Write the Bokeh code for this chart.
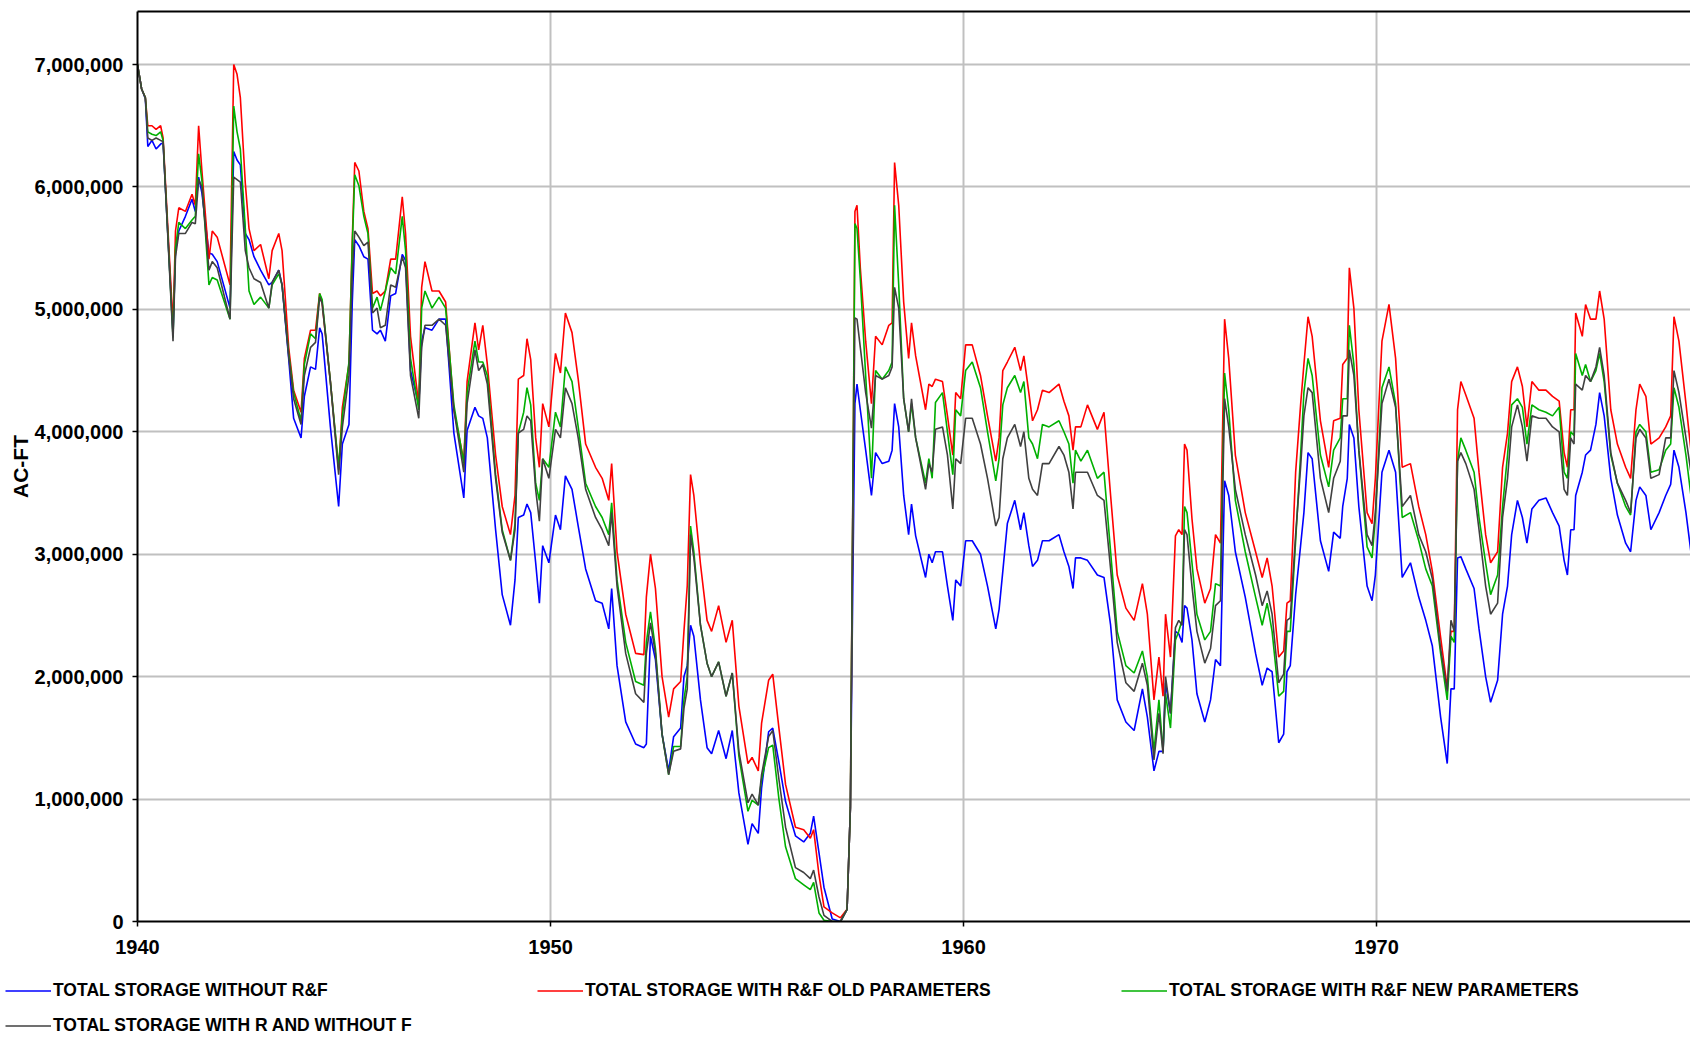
from bokeh.plotting import figure
from bokeh.models import (FixedTicker, NumeralTickFormatter, LinearAxis, Range1d,
                          Legend, LegendItem)
from bokeh.layouts import column
from bokeh.embed import file_html
from bokeh.resources import INLINE

years = [
    1940.00, 1940.10, 1940.19, 1940.25, 1940.35, 1940.45, 1940.56, 1940.62, 1940.86, 1940.92,
    1941.00, 1941.16, 1941.32, 1941.40, 1941.48, 1941.56, 1941.73, 1941.81, 1941.93, 1942.24,
    1942.33, 1942.41, 1942.49, 1942.61, 1942.70, 1942.82, 1942.98, 1943.18, 1943.26, 1943.42,
    1943.50, 1943.66, 1943.78, 1943.96, 1944.04, 1944.19, 1944.31, 1944.41, 1944.47, 1944.67,
    1944.87, 1944.96, 1945.12, 1945.20, 1945.26, 1945.36, 1945.48, 1945.58, 1945.69, 1945.80,
    1945.88, 1946.00, 1946.13, 1946.25, 1946.41, 1946.49, 1946.61, 1946.81, 1946.88, 1946.96,
    1947.13, 1947.30, 1947.46, 1947.66, 1947.90, 1947.98, 1948.17, 1948.26, 1948.36, 1948.47,
    1948.67, 1948.83, 1949.03, 1949.14, 1949.22, 1949.35, 1949.43, 1949.52, 1949.64, 1949.73,
    1949.81, 1949.96, 1950.12, 1950.24, 1950.36, 1950.52, 1950.67, 1950.85, 1951.09, 1951.25,
    1951.41, 1951.48, 1951.61, 1951.82, 1952.06, 1952.26, 1952.32, 1952.42, 1952.54, 1952.70,
    1952.86, 1952.98, 1953.15, 1953.23, 1953.31, 1953.39, 1953.47, 1953.63, 1953.79, 1953.90,
    1954.07, 1954.25, 1954.40, 1954.56, 1954.78, 1954.88, 1955.03, 1955.11, 1955.28, 1955.38,
    1955.53, 1955.69, 1955.93, 1956.13, 1956.29, 1956.37, 1956.50, 1956.62, 1956.82, 1957.02,
    1957.18, 1957.26, 1957.32, 1957.37, 1957.42, 1957.50, 1957.63, 1957.77, 1957.87, 1958.03,
    1958.19, 1958.27, 1958.33, 1958.43, 1958.55, 1958.67, 1958.74, 1958.84, 1959.08, 1959.16,
    1959.24, 1959.32, 1959.49, 1959.61, 1959.74, 1959.81, 1959.93, 1960.05, 1960.21, 1960.41,
    1960.58, 1960.78, 1960.86, 1960.95, 1961.06, 1961.24, 1961.38, 1961.46, 1961.58, 1961.67,
    1961.79, 1961.91, 1962.07, 1962.31, 1962.43, 1962.55, 1962.65, 1962.71, 1962.84, 1963.00,
    1963.24, 1963.40, 1963.56, 1963.72, 1963.93, 1964.13, 1964.33, 1964.45, 1964.61, 1964.73,
    1964.83, 1964.89, 1965.01, 1965.13, 1965.21, 1965.29, 1965.35, 1965.41, 1965.53, 1965.65,
    1965.84, 1965.98, 1966.10, 1966.22, 1966.32, 1966.42, 1966.58, 1966.82, 1967.07, 1967.23,
    1967.35, 1967.47, 1967.63, 1967.75, 1967.83, 1967.91, 1968.04, 1968.16, 1968.24, 1968.34,
    1968.44, 1968.64, 1968.84, 1968.96, 1969.12, 1969.18, 1969.29, 1969.34, 1969.45, 1969.57,
    1969.77, 1969.89, 1969.97, 1970.13, 1970.30, 1970.46, 1970.62, 1970.82, 1971.02, 1971.19,
    1971.35, 1971.55, 1971.71, 1971.80, 1971.88, 1971.96, 1972.04, 1972.16, 1972.36, 1972.48,
    1972.64, 1972.76, 1972.93, 1973.05, 1973.17, 1973.27, 1973.41, 1973.53, 1973.64, 1973.76,
    1973.93, 1974.10, 1974.26, 1974.42, 1974.54, 1974.62, 1974.70, 1974.78, 1974.82, 1974.98,
    1975.06, 1975.18, 1975.31, 1975.40, 1975.51, 1975.67, 1975.83, 1976.03, 1976.15, 1976.28,
    1976.37, 1976.52, 1976.64, 1976.84, 1977.00, 1977.12, 1977.20, 1977.32, 1977.49, 1977.61,
]

# values in millions of acre-feet
without_rf = [
    7.00, 6.80, 6.72, 6.33, 6.38, 6.31, 6.35, 6.36, 4.80, 5.48,
    5.64, 5.76, 5.90, 5.80, 6.08, 5.95, 5.46, 5.45, 5.39, 5.01,
    6.29, 6.22, 6.18, 5.62, 5.57, 5.43, 5.32, 5.20, 5.22, 5.32,
    5.20, 4.60, 4.11, 3.95, 4.29, 4.53, 4.51, 4.85, 4.80, 4.04,
    3.39, 3.90, 4.06, 5.06, 5.57, 5.52, 5.43, 5.41, 4.83, 4.80,
    4.83, 4.74, 5.11, 5.13, 5.45, 5.40, 4.50, 4.22, 4.74, 4.85,
    4.83, 4.92, 4.92, 3.99, 3.46, 4.01, 4.20, 4.13, 4.11, 3.95,
    3.20, 2.67, 2.42, 2.79, 3.30, 3.32, 3.41, 3.34, 2.93, 2.60,
    3.07, 2.93, 3.32, 3.20, 3.64, 3.53, 3.23, 2.88, 2.62, 2.60,
    2.39, 2.72, 2.09, 1.63, 1.45, 1.42, 1.45, 2.33, 2.14, 1.53,
    1.23, 1.51, 1.58, 2.00, 2.09, 2.42, 2.33, 1.81, 1.42, 1.37,
    1.56, 1.33, 1.56, 1.05, 0.63, 0.80, 0.72, 1.09, 1.55, 1.58,
    1.30, 0.98, 0.70, 0.65, 0.72, 0.86, 0.56, 0.28, 0.02, 0.00,
    0.10, 0.93, 2.80, 4.23, 4.39, 4.18, 3.85, 3.48, 3.83, 3.74,
    3.76, 3.85, 4.23, 4.04, 3.48, 3.16, 3.41, 3.15, 2.81, 3.00,
    2.93, 3.02, 3.02, 2.74, 2.46, 2.79, 2.74, 3.11, 3.11, 3.00,
    2.74, 2.39, 2.55, 2.86, 3.25, 3.44, 3.20, 3.34, 3.07, 2.90,
    2.95, 3.11, 3.11, 3.16, 3.02, 2.90, 2.72, 2.97, 2.97, 2.95,
    2.83, 2.81, 2.42, 1.81, 1.63, 1.56, 1.90, 1.67, 1.23, 1.39,
    1.39, 1.95, 1.70, 2.37, 2.35, 2.28, 2.58, 2.56, 2.30, 1.86,
    1.63, 1.81, 2.14, 2.09, 3.60, 3.48, 3.02, 2.65, 2.19, 1.93,
    2.07, 2.04, 1.46, 1.53, 2.04, 2.09, 2.67, 3.07, 3.34, 3.83,
    3.78, 3.11, 2.86, 3.18, 3.13, 3.39, 3.62, 4.06, 3.95, 3.39,
    2.74, 2.62, 2.83, 3.67, 3.85, 3.67, 2.81, 2.93, 2.65, 2.46,
    2.25, 1.67, 1.29, 1.90, 1.90, 2.97, 2.98, 2.88, 2.72, 2.39,
    2.00, 1.79, 1.97, 2.51, 2.74, 3.16, 3.44, 3.30, 3.09, 3.37,
    3.44, 3.46, 3.34, 3.23, 2.95, 2.83, 3.20, 3.20, 3.48, 3.67,
    3.81, 3.85, 4.06, 4.32, 4.13, 3.62, 3.32, 3.09, 3.02, 3.44,
    3.55, 3.48, 3.20, 3.34, 3.48, 3.57, 3.85, 3.71, 3.34, 3.02,
]

rf_old = [
    7.00, 6.80, 6.73, 6.50, 6.50, 6.47, 6.50, 6.40, 4.87, 5.64,
    5.83, 5.80, 5.94, 5.85, 6.50, 6.13, 5.41, 5.64, 5.59, 5.20,
    7.00, 6.92, 6.73, 6.03, 5.66, 5.48, 5.53, 5.25, 5.48, 5.62,
    5.48, 4.69, 4.34, 4.16, 4.60, 4.83, 4.83, 5.13, 5.05, 4.41,
    3.69, 4.20, 4.55, 5.57, 6.20, 6.13, 5.80, 5.66, 5.13, 5.15,
    5.11, 5.15, 5.41, 5.41, 5.92, 5.62, 4.78, 4.22, 5.18, 5.39,
    5.15, 5.15, 5.06, 4.18, 3.76, 4.41, 4.89, 4.67, 4.87, 4.55,
    3.81, 3.39, 3.16, 3.48, 4.43, 4.46, 4.76, 4.59, 3.95, 3.71,
    4.23, 4.04, 4.64, 4.48, 4.97, 4.81, 4.43, 3.90, 3.71, 3.62,
    3.44, 3.74, 3.02, 2.51, 2.19, 2.18, 2.65, 3.00, 2.72, 2.00,
    1.67, 1.90, 1.96, 2.37, 2.74, 3.65, 3.48, 2.92, 2.46, 2.37,
    2.58, 2.28, 2.46, 1.76, 1.29, 1.34, 1.23, 1.62, 1.97, 2.02,
    1.58, 1.12, 0.77, 0.75, 0.68, 0.75, 0.38, 0.12, 0.07, 0.03,
    0.10, 0.93, 3.50, 5.80, 5.85, 5.34, 4.74, 4.23, 4.78, 4.71,
    4.87, 4.89, 6.20, 5.85, 5.06, 4.60, 4.89, 4.62, 4.18, 4.39,
    4.37, 4.43, 4.41, 4.13, 3.81, 4.32, 4.27, 4.71, 4.71, 4.46,
    4.13, 3.76, 3.95, 4.50, 4.57, 4.69, 4.50, 4.62, 4.32, 4.09,
    4.18, 4.34, 4.32, 4.39, 4.25, 4.13, 3.85, 4.04, 4.04, 4.22,
    4.02, 4.16, 3.48, 2.83, 2.56, 2.46, 2.76, 2.51, 1.81, 2.16,
    1.84, 2.51, 2.16, 3.15, 3.20, 3.16, 3.90, 3.85, 3.29, 2.88,
    2.60, 2.72, 3.16, 3.09, 4.92, 4.60, 3.81, 3.34, 3.02, 2.81,
    2.97, 2.74, 2.16, 2.21, 2.60, 2.62, 3.67, 4.22, 4.55, 4.94,
    4.78, 4.09, 3.71, 4.09, 4.11, 4.55, 4.60, 5.34, 5.01, 4.18,
    3.34, 3.25, 3.62, 4.74, 5.04, 4.60, 3.71, 3.74, 3.39, 3.16,
    2.86, 2.32, 1.91, 2.37, 2.37, 4.18, 4.41, 4.30, 4.11, 3.67,
    3.16, 2.93, 3.02, 3.71, 3.99, 4.41, 4.53, 4.37, 4.04, 4.41,
    4.34, 4.34, 4.29, 4.25, 3.83, 3.71, 4.18, 4.18, 4.97, 4.78,
    5.04, 4.92, 4.92, 5.15, 4.92, 4.18, 3.90, 3.71, 3.62, 4.18,
    4.39, 4.29, 3.90, 3.95, 4.04, 4.13, 4.94, 4.74, 4.23, 3.85,
]

rf_new = [
    7.00, 6.80, 6.73, 6.45, 6.43, 6.42, 6.45, 6.38, 4.77, 5.50,
    5.71, 5.66, 5.73, 5.76, 6.27, 6.05, 5.20, 5.26, 5.24, 4.92,
    6.66, 6.45, 6.31, 5.66, 5.15, 5.04, 5.10, 5.01, 5.20, 5.29,
    5.20, 4.64, 4.32, 4.09, 4.55, 4.80, 4.76, 5.13, 5.08, 4.41,
    3.71, 4.13, 4.57, 5.52, 6.10, 6.01, 5.76, 5.62, 5.01, 5.10,
    4.99, 5.15, 5.34, 5.29, 5.76, 5.48, 4.60, 4.18, 5.01, 5.15,
    5.01, 5.10, 5.01, 4.22, 3.74, 4.32, 4.74, 4.57, 4.57, 4.46,
    3.65, 3.20, 2.95, 3.25, 3.99, 4.16, 4.36, 4.22, 3.58, 3.44,
    3.78, 3.71, 4.16, 4.04, 4.53, 4.41, 4.04, 3.58, 3.39, 3.30,
    3.16, 3.42, 2.79, 2.28, 1.96, 1.93, 2.28, 2.53, 2.23, 1.53,
    1.20, 1.43, 1.43, 1.81, 2.00, 3.23, 3.02, 2.42, 2.11, 2.00,
    2.12, 1.84, 2.03, 1.35, 0.90, 0.99, 0.95, 1.16, 1.42, 1.44,
    1.00, 0.61, 0.35, 0.30, 0.26, 0.32, 0.07, 0.01, 0.00, 0.00,
    0.10, 0.93, 3.50, 5.70, 5.66, 5.25, 4.46, 3.62, 4.50, 4.43,
    4.50, 4.57, 5.85, 5.20, 4.27, 4.00, 4.23, 3.95, 3.58, 3.78,
    3.62, 4.24, 4.32, 4.00, 3.65, 4.18, 4.13, 4.50, 4.57, 4.36,
    4.00, 3.60, 3.78, 4.22, 4.36, 4.46, 4.32, 4.41, 3.95, 3.90,
    3.78, 4.06, 4.04, 4.09, 4.00, 3.90, 3.58, 3.85, 3.76, 3.85,
    3.62, 3.67, 3.02, 2.37, 2.09, 2.03, 2.21, 2.00, 1.39, 1.81,
    1.39, 1.86, 1.58, 2.30, 2.37, 2.46, 3.39, 3.34, 2.93, 2.51,
    2.30, 2.37, 2.76, 2.74, 4.48, 4.18, 3.44, 3.02, 2.65, 2.42,
    2.60, 2.37, 1.84, 1.88, 2.37, 2.37, 3.11, 3.81, 4.32, 4.60,
    4.46, 3.81, 3.55, 3.85, 3.95, 4.27, 4.27, 4.87, 4.55, 3.85,
    3.06, 2.97, 3.30, 4.36, 4.53, 4.23, 3.30, 3.34, 3.11, 2.88,
    2.74, 2.19, 1.81, 2.33, 2.28, 3.76, 3.95, 3.85, 3.67, 3.30,
    2.93, 2.67, 2.83, 3.39, 3.81, 4.22, 4.27, 4.20, 3.90, 4.22,
    4.18, 4.16, 4.13, 4.20, 3.67, 3.62, 4.00, 3.97, 4.64, 4.46,
    4.55, 4.41, 4.50, 4.64, 4.41, 3.81, 3.58, 3.39, 3.32, 4.00,
    4.06, 4.00, 3.67, 3.69, 3.85, 3.90, 4.36, 4.20, 3.81, 3.48,
]

r_without_f = [
    7.00, 6.80, 6.73, 6.40, 6.38, 6.40, 6.38, 6.37, 4.74, 5.43,
    5.62, 5.62, 5.71, 5.70, 6.06, 6.00, 5.32, 5.39, 5.34, 4.92,
    6.08, 6.06, 6.04, 5.48, 5.34, 5.25, 5.22, 5.01, 5.22, 5.32,
    5.20, 4.62, 4.27, 4.06, 4.46, 4.69, 4.73, 5.10, 5.05, 4.41,
    3.65, 4.04, 4.46, 5.29, 5.64, 5.59, 5.52, 5.55, 4.97, 5.01,
    4.85, 4.87, 5.20, 5.18, 5.43, 5.34, 4.46, 4.11, 4.69, 4.87,
    4.87, 4.92, 4.87, 4.18, 3.67, 4.23, 4.67, 4.50, 4.55, 4.39,
    3.62, 3.18, 2.95, 3.20, 3.99, 4.02, 4.13, 4.09, 3.53, 3.27,
    3.78, 3.62, 4.02, 3.95, 4.36, 4.23, 3.95, 3.53, 3.30, 3.20,
    3.07, 3.34, 2.74, 2.19, 1.86, 1.79, 2.19, 2.44, 2.19, 1.53,
    1.20, 1.39, 1.41, 1.74, 1.90, 3.16, 2.97, 2.42, 2.11, 2.00,
    2.12, 1.84, 2.03, 1.39, 0.97, 1.04, 0.95, 1.20, 1.51, 1.56,
    1.16, 0.77, 0.44, 0.40, 0.35, 0.42, 0.20, 0.05, 0.00, 0.00,
    0.10, 0.93, 3.40, 4.93, 4.92, 4.69, 4.32, 4.03, 4.46, 4.43,
    4.46, 4.53, 5.18, 5.01, 4.27, 4.00, 4.27, 3.95, 3.53, 3.74,
    3.67, 4.02, 4.04, 3.81, 3.37, 3.78, 3.74, 4.11, 4.11, 3.90,
    3.62, 3.23, 3.30, 3.78, 3.95, 4.06, 3.88, 4.00, 3.62, 3.53,
    3.48, 3.74, 3.74, 3.88, 3.81, 3.67, 3.37, 3.67, 3.67, 3.67,
    3.48, 3.44, 2.88, 2.28, 1.95, 1.88, 2.11, 1.93, 1.32, 1.70,
    1.37, 2.00, 1.70, 2.40, 2.46, 2.42, 3.20, 3.16, 2.74, 2.37,
    2.11, 2.23, 2.58, 2.62, 4.27, 4.04, 3.53, 3.16, 2.83, 2.58,
    2.70, 2.51, 1.95, 2.02, 2.46, 2.48, 3.16, 3.71, 4.13, 4.36,
    4.32, 3.62, 3.34, 3.62, 3.76, 4.13, 4.13, 4.67, 4.46, 3.85,
    3.16, 3.07, 3.34, 4.23, 4.43, 4.20, 3.39, 3.48, 3.16, 3.02,
    2.80, 2.23, 1.88, 2.46, 2.37, 3.76, 3.83, 3.74, 3.53, 3.20,
    2.74, 2.51, 2.60, 3.30, 3.62, 4.04, 4.22, 4.04, 3.76, 4.13,
    4.11, 4.11, 4.04, 4.00, 3.53, 3.48, 3.95, 3.90, 4.39, 4.34,
    4.46, 4.41, 4.53, 4.69, 4.46, 3.83, 3.58, 3.44, 3.34, 3.95,
    4.02, 3.95, 3.62, 3.65, 3.95, 3.95, 4.50, 4.32, 3.95, 3.67,
]

labels = ["TOTAL STORAGE WITHOUT R&F", "TOTAL STORAGE WITH R&F OLD PARAMETERS",
          "TOTAL STORAGE WITH R&F NEW PARAMETERS", "TOTAL STORAGE WITH R AND WITHOUT F"]
colors = ["#0000ff", "#ff0000", "#00b000", "#404040"]
series = [without_rf, rf_old, rf_new, r_without_f]
x_ticks = [1940, 1950, 1960, 1970]
y_ticks = [0, 1000000, 2000000, 3000000, 4000000, 5000000, 6000000, 7000000]

FONT = "Liberation Sans"

p = figure(width=1690, height=965, output_backend="svg", toolbar_location=None,
           x_range=Range1d(1940, 1977.60), y_range=Range1d(0, 7433000),
           min_border_left=137, min_border_right=0, min_border_top=11,
           min_border_bottom=44)
p.frame_align = False
p.outline_line_color = None
p.background_fill_color = "white"
p.border_fill_color = "white"

renderers = []
for vals, col in zip(series, colors):
    r = p.line(years, [v * 1e6 for v in vals], line_color=col, line_width=1.6)
    renderers.append(r)

p.xgrid.ticker = FixedTicker(ticks=x_ticks)
p.ygrid.ticker = FixedTicker(ticks=y_ticks)
for g in (p.xgrid, p.ygrid):
    g.grid_line_color = "#c0c0c0"
    g.grid_line_width = 2

p.xaxis.ticker = FixedTicker(ticks=x_ticks)
p.yaxis.ticker = FixedTicker(ticks=y_ticks)
p.yaxis.formatter = NumeralTickFormatter(format="0,0")
p.xaxis.formatter = NumeralTickFormatter(format="0")
for ax in (p.xaxis, p.yaxis):
    ax.axis_line_color = "black"
    ax.axis_line_width = 2
    ax.major_tick_line_color = "black"
    ax.major_tick_line_width = 1.5
    ax.major_tick_out = 5
    ax.major_tick_in = 0
    ax.minor_tick_out = 0
    ax.minor_tick_in = 0
    ax.major_label_text_font = FONT
    ax.major_label_text_font_style = "bold"
    ax.major_label_text_font_size = "20px"
    ax.major_label_text_color = "black"
p.yaxis.major_label_standoff = 9
p.xaxis.major_label_standoff = 13
p.yaxis.axis_label = "AC-FT"
p.yaxis.axis_label_text_font = FONT
p.yaxis.axis_label_text_font_style = "bold"
p.yaxis.axis_label_text_font_size = "21px"
p.yaxis.axis_label_text_color = "black"
p.yaxis.axis_label_standoff = 0

top = LinearAxis(ticker=FixedTicker(ticks=[]), axis_line_color="black", axis_line_width=2,
                 major_tick_out=0, major_tick_in=0, minor_tick_out=0, minor_tick_in=0,
                 major_label_text_font_size="0px")
p.add_layout(top, "above")

# legend strip under the chart
lg = figure(width=1690, height=74, output_backend="svg", toolbar_location=None,
            x_range=Range1d(0, 1), y_range=Range1d(0, 1),
            min_border_left=0, min_border_right=0, min_border_top=0, min_border_bottom=0)
lg.frame_align = False
lg.axis.visible = False
lg.grid.visible = False
lg.outline_line_color = None
# swatch-only renderers kept outside the visible range
dummies = [lg.line(x=[0.0, 0.1], y=[-5.0, -5.0], line_color=c, line_width=1.6)
           for c in colors]


def make_legend(idx, loc):
    leg = Legend(items=[LegendItem(label=labels[i], renderers=[dummies[i]]) for i in idx],
                 location=loc, orientation="vertical", padding=0, margin=0, spacing=10,
                 glyph_width=46, glyph_height=25, label_height=25, label_standoff=2,
                 border_line_color=None, background_fill_alpha=0,
                 label_text_font=FONT, label_text_font_style="bold",
                 label_text_font_size="17.5px", label_text_color="black")
    lg.add_layout(leg, "center")


make_legend([0, 3], (5, 1.5))
make_legend([1], (537, 36.5))
make_legend([2], (1121, 36.5))

layout = column(p, lg, spacing=0)
open("out.html", "w").write(file_html(layout, INLINE))
